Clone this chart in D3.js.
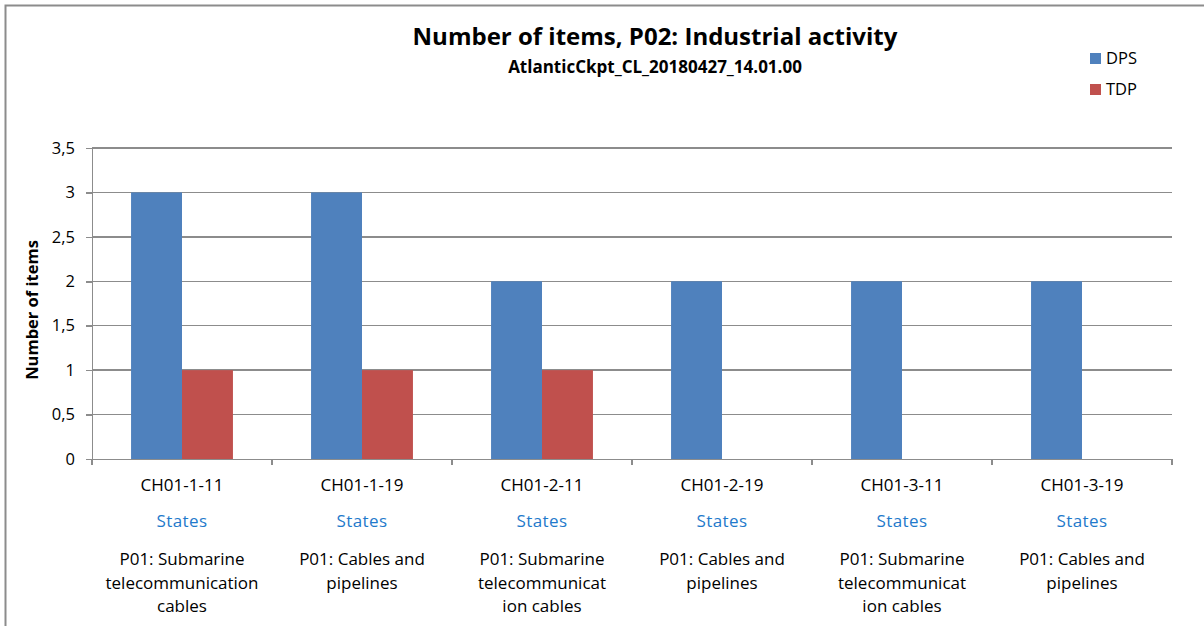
<!DOCTYPE html>
<html lang="en">
<head>
    <meta charset="UTF-8">
    <title>Number of items</title>
    <script src="https://cdn.jsdelivr.net/npm/d3@7"></script>
    <style>
        body { margin: 0; background: #fff; }
        svg text { font-family: "Open Sans", Lato, sans-serif; }
        .grid line { stroke: #8c8c8c; stroke-width: 1.5; shape-rendering: crispEdges; }
        .axis path, .axis line { fill: none; stroke: #8c8c8c; stroke-width: 1.5; shape-rendering: crispEdges; }
        .axis text { font-size: 16.5px; fill: #000; }
    </style>
</head>
<body>
<script>
    // data
    let categories = ['CH01-1-11', 'CH01-1-19', 'CH01-2-11', 'CH01-2-19', 'CH01-3-11', 'CH01-3-19'];
    let groupLabels = ['States', 'States', 'States', 'States', 'States', 'States'];
    let topicLabels = [
        ['P01: Submarine', 'telecommunication', 'cables'],
        ['P01: Cables and', 'pipelines'],
        ['P01: Submarine', 'telecommunicat', 'ion cables'],
        ['P01: Cables and', 'pipelines'],
        ['P01: Submarine', 'telecommunicat', 'ion cables'],
        ['P01: Cables and', 'pipelines']
    ];
    let seriesNames = ['DPS', 'TDP'];
    let seriesColors = ['#4f81bd', '#c0504d'];
    let dps = [3, 3, 2, 2, 2, 2];
    let tdp = [1, 1, 1, 0, 0, 0];
    let yTicks = [0, 0.5, 1, 1.5, 2, 2.5, 3, 3.5];

    let width = 1204;
    let height = 626;
    let margin = {left: 92, right: 32, top: 148, bottom: 167};
    let plotW = width - margin.left - margin.right;
    let plotH = height - margin.top - margin.bottom;

    let svg = d3.select('body').append('svg')
        .attr('width', width)
        .attr('height', height);

    // frame
    svg.append('path')
        .attr('d', 'M5.5,626 L5.5,5.5 L1204,5.5')
        .attr('fill', 'none')
        .attr('stroke', '#8c8c8c')
        .attr('stroke-width', 2);

    let g = svg.append('g').attr('transform', 'translate(' + margin.left + ',' + margin.top + ')');

    let y = d3.scaleLinear().domain([0, 3.5]).range([plotH, 0]);
    let x0 = d3.scaleBand().domain(categories).range([0, plotW]).padding(0);
    let inset = x0.bandwidth() * 0.217;
    let x1 = d3.scaleBand().domain(seriesNames).range([inset, x0.bandwidth() - inset]);

    // gridlines
    g.append('g').attr('class', 'grid')
        .selectAll('line').data(yTicks.filter(d => d > 0)).enter().append('line')
        .attr('x1', 0).attr('x2', plotW)
        .attr('y1', d => y(d)).attr('y2', d => y(d));

    // bars
    let rows = categories.map((c, i) => ({cat: c, values: [dps[i], tdp[i]]}));
    let groups = g.selectAll('.group').data(rows).enter().append('g')
        .attr('transform', d => 'translate(' + x0(d.cat) + ',0)');
    groups.selectAll('rect')
        .data(d => d.values.map((v, j) => ({key: seriesNames[j], value: v, color: seriesColors[j]})))
        .enter().append('rect')
        .attr('x', d => x1(d.key))
        .attr('width', x1.bandwidth())
        .attr('y', d => y(d.value))
        .attr('height', d => plotH - y(d.value))
        .attr('fill', d => d.color);

    // y axis
    let yAxis = d3.axisLeft(y).tickValues(yTicks).tickSize(6).tickSizeOuter(0)
        .tickFormat(d => String(d).replace('.', ','));
    g.append('g').attr('class', 'axis').call(yAxis)
        .selectAll('text').attr('dx', -8);

    // x axis
    let xAxis = d3.axisBottom(x0).tickValues([]).tickSizeOuter(6);
    let xg = g.append('g').attr('class', 'axis')
        .attr('transform', 'translate(0,' + plotH + ')')
        .call(xAxis);
    xg.selectAll('.tickmark').data(d3.range(categories.length + 1)).enter().append('line')
        .attr('x1', d => d * x0.step()).attr('x2', d => d * x0.step())
        .attr('y1', 0).attr('y2', 6);

    // category labels
    let labels = g.selectAll('.catlabel').data(categories).enter().append('g')
        .attr('transform', d => 'translate(' + (x0(d) + x0.bandwidth() / 2) + ',' + plotH + ')');
    labels.append('text')
        .attr('y', 32).attr('text-anchor', 'middle')
        .style('font-size', '17px')
        .text(d => d);
    labels.append('text')
        .attr('y', 68).attr('text-anchor', 'middle')
        .style('font-size', '17px').style('letter-spacing', '0.4px')
        .attr('fill', '#1f7acb')
        .text((d, i) => groupLabels[i]);
    labels.append('text')
        .attr('text-anchor', 'middle')
        .style('font-size', '17px')
        .selectAll('tspan').data((d, i) => topicLabels[i]).enter().append('tspan')
        .attr('x', 0)
        .attr('y', (d, i) => 106 + i * 23.5)
        .text(d => d);

    // y title
    svg.append('text')
        .attr('transform', 'translate(38,310) rotate(-90)')
        .attr('text-anchor', 'middle')
        .style('font-size', '16.5px').style('font-weight', 'bold')
        .text('Number of items');

    // titles
    svg.append('text')
        .attr('x', 655).attr('y', 45)
        .attr('text-anchor', 'middle')
        .style('font-size', '24px').style('font-weight', 'bold')
        .text('Number of items, P02: Industrial activity');
    svg.append('text')
        .attr('x', 655).attr('y', 73)
        .attr('text-anchor', 'middle')
        .style('font-size', '17px').style('font-weight', 'bold')
        .text('AtlanticCkpt_CL_20180427_14.01.00');

    // legend
    let legend = svg.selectAll('.legend').data(seriesNames).enter().append('g')
        .attr('transform', (d, i) => 'translate(1090,' + (54 + i * 31) + ')');
    legend.append('rect')
        .attr('width', 11).attr('height', 11)
        .attr('y', -1)
        .attr('fill', (d, i) => seriesColors[i]);
    legend.append('text')
        .attr('x', 16).attr('y', 10)
        .style('font-size', '16.5px')
        .text(d => d);
</script>
</body>
</html>
